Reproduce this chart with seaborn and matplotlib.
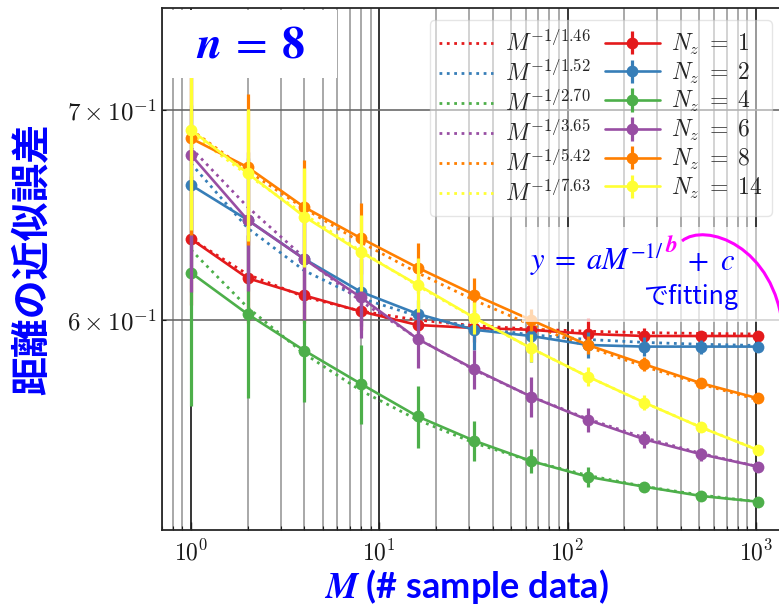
import numpy as np
import pandas as pd
import seaborn as sns
import matplotlib
matplotlib.use("Agg")
import matplotlib.pyplot as plt
from matplotlib.container import ErrorbarContainer
from matplotlib.patches import Rectangle, PathPatch
from matplotlib.path import Path

# ---------------- data ----------------
M_values = [1, 2, 4, 8, 16, 32, 64, 128, 256, 512, 1024]
nz_values = [1, 2, 4, 6, 8, 14]

mean_nz1 = [0.6368, 0.6187, 0.6109, 0.6038, 0.5978, 0.5965, 0.5957, 0.5939, 0.5930, 0.5930, 0.5930]
mean_nz2 = [0.6625, 0.6457, 0.6275, 0.6125, 0.6027, 0.5957, 0.5930, 0.5891, 0.5884, 0.5884, 0.5884]
mean_nz4 = [0.6212, 0.6026, 0.5867, 0.5725, 0.5590, 0.5491, 0.5410, 0.5348, 0.5309, 0.5273, 0.5251]
mean_nz6 = [0.6773, 0.6457, 0.6274, 0.6100, 0.5917, 0.5787, 0.5672, 0.5576, 0.5497, 0.5437, 0.5388]
mean_nz8 = [0.6856, 0.6712, 0.6518, 0.6371, 0.6235, 0.6112, 0.6000, 0.5891, 0.5808, 0.5728, 0.5665]
mean_nz14 = [0.6898, 0.6682, 0.6473, 0.6306, 0.6157, 0.6010, 0.5877, 0.5756, 0.5647, 0.5545, 0.5454]

err_nz1 = [0.030, 0.020, 0.012, 0.008, 0.006, 0.006, 0.006, 0.007, 0.0035, 0.002, 0.0015]
err_nz2 = [0.040, 0.030, 0.020, 0.015, 0.006, 0.0087, 0.011, 0.0056, 0.004, 0.003, 0.002]
err_nz4 = [0.058, 0.036, 0.0216, 0.0166, 0.0127, 0.008, 0.0047, 0.004, 0.002, 0.0015, 0.001]
err_nz6 = [0.065, 0.033, 0.0275, 0.018, 0.0125, 0.0084, 0.0083, 0.005, 0.0035, 0.0025, 0.002]
err_nz8 = [0.047, 0.0373, 0.023, 0.0167, 0.0114, 0.0076, 0.0048, 0.004, 0.003, 0.002, 0.0015]
err_nz14 = [0.0488, 0.0325, 0.0233, 0.0175, 0.0122, 0.007, 0.006, 0.004, 0.003, 0.002, 0.0015]

# fit y = a M^(-1/b) + c
fit_b = [1.46, 1.52, 2.70, 3.65, 5.42, 7.63]
fit_a = [0.0433, 0.085, 0.1155, 0.167, 0.172, 0.239]
fit_c = [0.5935, 0.588, 0.5162, 0.5138, 0.518, 0.4491]

means = [mean_nz1, mean_nz2, mean_nz4, mean_nz6, mean_nz8, mean_nz14]
errs = [err_nz1, err_nz2, err_nz4, err_nz6, err_nz8, err_nz14]

# ---------------- style ----------------
sns.set_theme(style="ticks")
plt.rcParams["font.family"] = ["cmr10"]
plt.rcParams["mathtext.fontset"] = "cm"
plt.rcParams["axes.formatter.use_mathtext"] = True
BLUE = "#0000ff"
MAGENTA = "#ff00ff"
palette = sns.color_palette("Set1", 6)

W, H = 779, 607
fig = plt.figure(figsize=(W / 100, H / 100), dpi=100)
ax = fig.add_axes([161.8 / W, 77 / H, 621.6 / W, 522 / H])
ax.set_xscale("log")
ax.set_yscale("log")

M_arr = np.array(M_values, dtype=float)

fit_handles = []
for i in range(6):
    fit_y = fit_a[i] * M_arr ** (-1.0 / fit_b[i]) + fit_c[i]
    sns.lineplot(x=M_arr, y=fit_y, color=palette[i], linestyle=":", linewidth=2.0,
                 ax=ax, legend=False, zorder=2)
    fit_handles.append(ax.lines[-1])

data_handles = []
for i in range(6):
    eb = ax.errorbar(M_arr, means[i], yerr=errs[i], fmt="none", ecolor=palette[i],
                     elinewidth=2.3, capsize=0, zorder=3)
    sns.lineplot(x=M_arr, y=means[i], color=palette[i], marker="o", markersize=8.5,
                 markeredgewidth=0, linewidth=1.9, ax=ax, legend=False, zorder=3)
    line = ax.lines[-1]
    data_handles.append(ErrorbarContainer((line, eb.lines[1], eb.lines[2]),
                                          has_xerr=False, has_yerr=True))

ax.set_xlim(0.70, 1400)
ax.set_ylim(0.5143, 0.7544)

ax.grid(True, which="major", axis="x", color="black", linewidth=1.3, alpha=0.85)
ax.grid(True, which="minor", axis="x", color="0.55", linewidth=1.4, alpha=0.75)
ax.grid(True, which="minor", axis="y", color="0.4", linewidth=1.3, alpha=0.9)
ax.set_axisbelow(True)
ax.tick_params(which="both", direction="in", labelsize=17, colors="0.1")
ax.tick_params(which="major", length=6, width=1)
ax.tick_params(which="minor", length=3, width=0.8)
ax.tick_params(axis="x", which="both", pad=7)
ax.tick_params(axis="y", which="both", labelsize=18)
for s in ax.spines.values():
    s.set_color("0.15")
    s.set_linewidth(1.3)

labels = ([rf"$M^{{-1/{b:.2f}}}$" for b in fit_b]
          + [rf"$N_z\;=\;{n}$" for n in nz_values])
leg = ax.legend(fit_handles + data_handles, labels, ncol=2, loc="upper right",
                bbox_to_anchor=((772 - 161.8) / 621.6, (530 - 20) / 522),
                borderaxespad=0, fontsize=17, handlelength=2.3, handletextpad=0.5,
                columnspacing=0.6, labelspacing=0.16, framealpha=0.5,
                fancybox=True, edgecolor="0.8", numpoints=1)
leg.set_zorder(10)

# axis labels
ax.set_xlabel(r"$\mathbfit{M}$ (# sample data)", fontsize=26, color=BLUE,
              fontweight="bold", fontfamily=["Lato"], math_fontfamily="stix", va="top")
ax.xaxis.set_label_coords((466 - 161.8) / 621.6, (530 - 567) / 522)
ax.set_ylabel("距離の近似誤差", fontsize=28, color=BLUE, fontweight="bold",
              fontfamily=["Noto Sans CJK JP"], va="center")
ax.yaxis.set_label_coords((33 - 161.8) / 621.6, (530 - 259) / 522)


def fpx(x, y):
    return (x / W, 1 - y / H)


# n = 8 box
fig.add_artist(Rectangle(fpx(163.5, 78), (337 - 163.5) / W, (78 - 9.5) / H,
                         transform=fig.transFigure, facecolor="white",
                         edgecolor="none", zorder=5))
fig.text(*fpx(196, 57), r"$\mathbfit{n}\:=\:\mathbf{8}$", fontsize=33, color=BLUE,
         math_fontfamily="stix", va="baseline", ha="left", zorder=6)

# fitting annotation box
fig.add_artist(Rectangle(fpx(522, 322), (790 - 522) / W, (322 - 227) / H,
                         transform=fig.transFigure, facecolor="white",
                         edgecolor="none", alpha=0.7, zorder=5))
renderer = fig.canvas.get_renderer()
t1 = fig.text(*fpx(530, 270), r"$y\;=\;aM^{-1/}$", fontsize=22, color=BLUE,
              math_fontfamily="stix", va="baseline", ha="left", zorder=6)
bb = t1.get_window_extent(renderer)
t2 = fig.text((bb.x1 + 1) / W, 1 - 252 / H, r"$\mathbfit{b}$", fontsize=17,
              color=MAGENTA, math_fontfamily="stix", va="baseline", ha="left", zorder=6)
bb2 = t2.get_window_extent(renderer)
fig.text((bb2.x1 + 9) / W, 1 - 270 / H, r"$+\;\;c$", fontsize=22, color=BLUE,
         math_fontfamily="stix", va="baseline", ha="left", zorder=6)
fig.text(*fpx(643, 304), "でfitting", fontsize=18, color=BLUE,
         fontfamily=["Noto Sans CJK JP"], va="baseline", ha="left", zorder=6)

# magenta callout curve
pts = [fpx(682, 241), fpx(705, 222), fpx(775, 245), fpx(783, 330)]
curve = Path(pts, [Path.MOVETO, Path.CURVE4, Path.CURVE4, Path.CURVE4])
fig.add_artist(PathPatch(curve, transform=fig.transFigure, facecolor="none",
                         edgecolor=MAGENTA, linewidth=2.2, zorder=7))

fig.savefig("out.png", dpi=100)
